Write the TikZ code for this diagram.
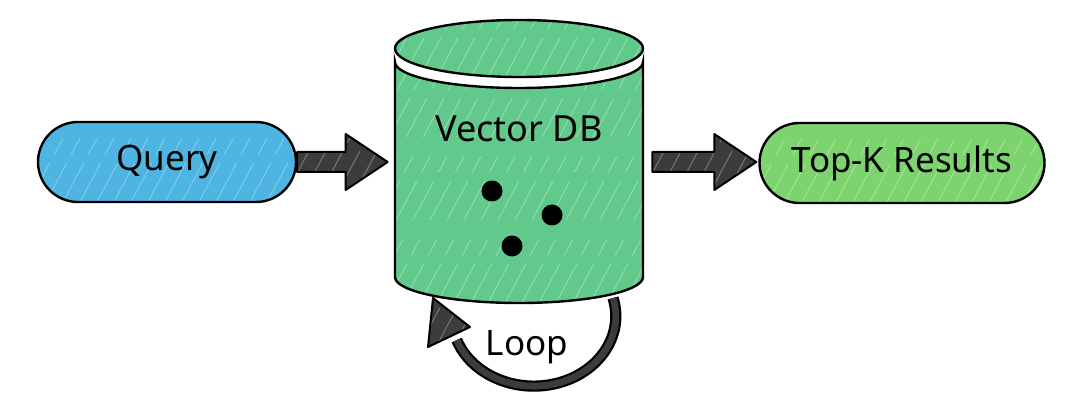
\documentclass[tikz,border=0pt]{standalone}
\usepackage{fontspec}
\setmainfont{Noto Sans}
\usepackage{tikz}
\usetikzlibrary{
  shapes.misc,%
  calc,%
  positioning
}
\definecolor{queryblue}{HTML}{4EB4E1}
\definecolor{dbgreen}{HTML}{62C98D}
\definecolor{resgreen}{HTML}{7DD36E}
\definecolor{arrowgray}{HTML}{3C3C3C}
% sketchy white strokes inside filled shapes
\tikzset{hatch/.style={path picture={
      \foreach \k in {0,8.5,...,420}
        \draw[white, opacity=.3, line width=.5pt, dash pattern=on 22pt off 5pt on 9pt off 11pt]
          ([xshift=\k pt-200pt]path picture bounding box.south west) -- ++(62:260pt);}}}
\tikzset{pill/.style={rounded rectangle, draw=black, line width=1.2pt,
    minimum height=40pt, inner sep=0pt, font=\fontsize{17.5}{20}\selectfont, hatch}}
\tikzset{label text/.style={font=\fontsize{17.5}{20}\selectfont}}
\tikzset{dot/.style={circle, fill=black, inner sep=0pt, minimum size=10.5pt}}
\tikzset{blockarrow/.style={fill=arrowgray, draw=black, line width=1pt, line join=round, hatch,
    to path={let \p1=(\tikztostart), \p2=(\tikztotarget) in
      (\x1,\y1+5pt) -- (\x2-21pt,\y1+5pt) -- (\x2-21pt,\y1+14pt) -- (\x2,\y1)
      -- (\x2-21pt,\y1-14pt) -- (\x2-21pt,\y1-5pt) -- (\x1,\y1-5pt) -- cycle}}}
\tikzset{dbshape/.style={fill=dbgreen, draw=black, line width=1.2pt, hatch}}

\begin{document}
\begin{tikzpicture}[x=0.5pt, y=-0.5pt]
  \useasboundingbox (0,0) rectangle (1080,406);
  \node[pill, fill=queryblue, minimum width=129pt] (query) at (167,162) {Query};
  \node[pill, fill=resgreen, minimum width=142.5pt] (topk) at (902,163) {Top-K Results};
  \node[inner sep=0pt, minimum width=124pt, minimum height=100pt] (db) at (519,162) {};
  % loop below the cylinder
  \coordinate (loopstart) at (613,298);
  \draw[line width=5.6pt] (loopstart)
    arc[start angle=15, end angle=-160, x radius=41pt, y radius=35pt];
  \draw[line width=3.4pt, arrowgray] (loopstart)
    arc[start angle=15, end angle=-160, x radius=41pt, y radius=35pt];
  \draw[fill=arrowgray, line width=1pt, line join=round, hatch]
    (433,298) -- (470,327) -- (428,347) -- cycle;
  \node[label text, anchor=base] (looplabel) at (527,355) {Loop};
  % cylinder
  \path[dbshape] (395,62) -- (395,277)
    arc[start angle=180, end angle=360, x radius=62pt, y radius=13pt]
    -- (643,62)
    arc[start angle=0, end angle=-180, x radius=62pt, y radius=13pt] -- cycle;
  \path[dbshape] (519,48.5) ellipse[x radius=62pt, y radius=14.25pt];
  \node[label text, font=\fontsize{18}{20}\selectfont] (dblabel) at (519,129) {Vector DB};
  \node[dot] (v1) at (492,191) {};
  \node[dot] (v2) at (552,215) {};
  \node[dot] (v3) at (512,246) {};
  % block arrows
  \draw[blockarrow] (query.east) to ($(db.west)+(-7,0)$);
  \draw[blockarrow] ($(db.east)+(9,0)$) to ($(topk.west)+(-2,0)$);
\end{tikzpicture}
\end{document}
